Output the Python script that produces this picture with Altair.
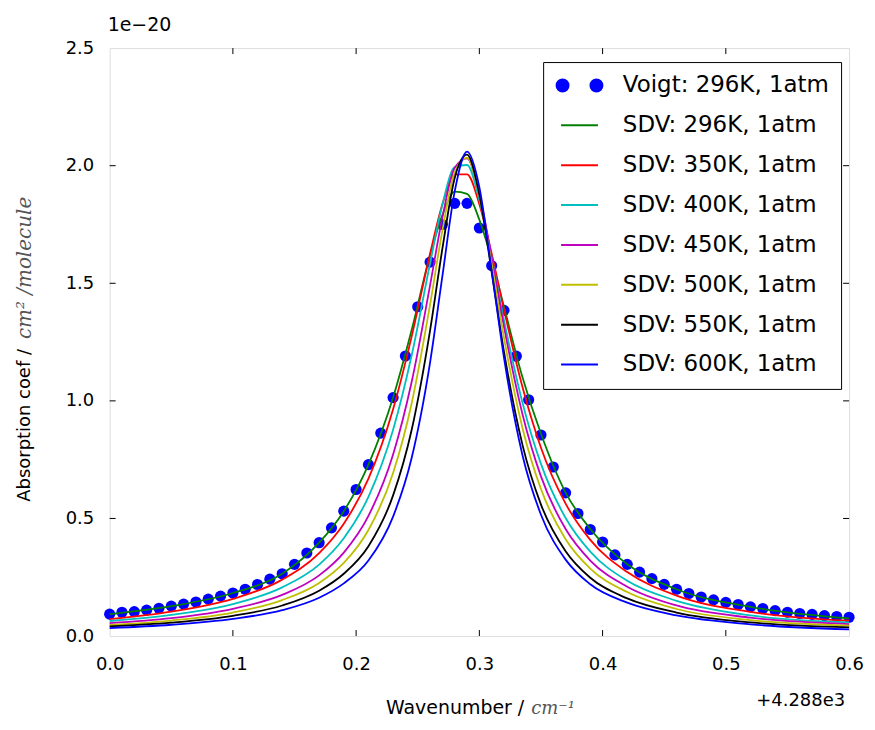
import altair as alt
import pandas as pd

SERIES = ["Voigt: 296K, 1atm", "SDV: 296K, 1atm", "SDV: 350K, 1atm", "SDV: 400K, 1atm",
          "SDV: 450K, 1atm", "SDV: 500K, 1atm", "SDV: 550K, 1atm", "SDV: 600K, 1atm"]
COLORS = ["#0000ff", "#008000", "#ff0000", "#00bfbf", "#bf00bf", "#bfbf00", "#000000", "#0000ff"]

VOIGT_X = [0.00, 0.01, 0.02, 0.03, 0.04, 0.05, 0.06, 0.07, 0.08, 0.09,
           0.10, 0.11, 0.12, 0.13, 0.14, 0.15, 0.16, 0.17, 0.18, 0.19,
           0.20, 0.21, 0.22, 0.23, 0.24, 0.25, 0.26, 0.27, 0.28, 0.29,
           0.30, 0.31, 0.32, 0.33, 0.34, 0.35, 0.36, 0.37, 0.38, 0.39,
           0.40, 0.41, 0.42, 0.43, 0.44, 0.45, 0.46, 0.47, 0.48, 0.49,
           0.50, 0.51, 0.52, 0.53, 0.54, 0.55, 0.56, 0.57, 0.58, 0.59, 0.60]
VOIGT_Y = [0.093, 0.101, 0.104, 0.110, 0.118, 0.127, 0.136, 0.145, 0.157, 0.170,
           0.183, 0.199, 0.219, 0.242, 0.265, 0.305, 0.353, 0.397, 0.460, 0.531,
           0.623, 0.729, 0.863, 1.014, 1.191, 1.400, 1.590, 1.750, 1.840, 1.840,
           1.735, 1.575, 1.385, 1.190, 1.005, 0.855, 0.719, 0.609, 0.521, 0.453,
           0.400, 0.345, 0.305, 0.272, 0.244, 0.220, 0.199, 0.181, 0.166, 0.154,
           0.143, 0.134, 0.124, 0.117, 0.108, 0.101, 0.096, 0.092, 0.087, 0.083, 0.080]

LINE_X = [0.00, 0.05, 0.10, 0.14, 0.17, 0.19, 0.21, 0.23, 0.245, 0.26, 0.27, 0.28,
          0.29, 0.30, 0.31, 0.32, 0.335, 0.35, 0.37, 0.39, 0.42, 0.46, 0.52, 0.60]
SDV_296 = [0.093, 0.127, 0.183, 0.265, 0.397, 0.531, 0.729, 1.014, 1.300, 1.620, 1.790, 1.890,
           1.880, 1.770, 1.600, 1.400, 1.100, 0.860, 0.610, 0.455, 0.305, 0.199, 0.124, 0.075]
SDV_350 = [0.072, 0.104, 0.158, 0.240, 0.353, 0.478, 0.669, 0.964, 1.272, 1.626, 1.836, 1.963,
           1.963, 1.836, 1.626, 1.388, 1.059, 0.801, 0.563, 0.409, 0.272, 0.172, 0.103, 0.065]
SDV_400 = [0.064, 0.090, 0.136, 0.207, 0.304, 0.416, 0.592, 0.877, 1.192, 1.584, 1.834, 1.994,
           2.003, 1.855, 1.611, 1.343, 0.992, 0.732, 0.502, 0.359, 0.235, 0.150, 0.088, 0.058]
SDV_450 = [0.055, 0.076, 0.116, 0.175, 0.258, 0.355, 0.511, 0.772, 1.079, 1.491, 1.780, 1.991,
           2.031, 1.880, 1.610, 1.316, 0.943, 0.679, 0.455, 0.321, 0.210, 0.130, 0.078, 0.051]
SDV_500 = [0.047, 0.066, 0.100, 0.153, 0.226, 0.311, 0.451, 0.693, 0.988, 1.409, 1.725, 1.972,
           2.034, 1.874, 1.581, 1.268, 0.885, 0.625, 0.412, 0.287, 0.187, 0.115, 0.068, 0.044]
SDV_550 = [0.041, 0.057, 0.086, 0.130, 0.193, 0.265, 0.382, 0.598, 0.875, 1.299, 1.647, 1.948,
           2.047, 1.877, 1.548, 1.208, 0.813, 0.559, 0.361, 0.248, 0.160, 0.100, 0.058, 0.037]
SDV_600 = [0.034, 0.048, 0.073, 0.110, 0.163, 0.224, 0.321, 0.508, 0.756, 1.163, 1.530, 1.891,
           2.060, 1.909, 1.553, 1.183, 0.769, 0.516, 0.325, 0.220, 0.142, 0.088, 0.050, 0.028]

X_TICKS = [0.0, 0.1, 0.2, 0.3, 0.4, 0.5, 0.6]
Y_TICKS = [0.0, 0.5, 1.0, 1.5, 2.0, 2.5]
X_INNER = [0.1, 0.2, 0.3, 0.4, 0.5]
Y_INNER = [0.5, 1.0, 1.5, 2.0]

# legend symbol paths (two dots for the Voigt entry, a short line for SDV entries)
DOTS = ("M -2.3 0 A 0.6 0.6 0 1 0 -1.1 0 A 0.6 0.6 0 1 0 -2.3 0 Z "
        "M 1.1 0 A 0.6 0.6 0 1 0 2.3 0 A 0.6 0.6 0 1 0 1.1 0 Z")
DASH = "M -1.85 0 L 1.85 0"

W, H = 742, 590
FONT = "DejaVu Sans"

voigt_df = pd.DataFrame({"x": VOIGT_X, "y": VOIGT_Y, "series": SERIES[0]})
sdv_values = [SDV_296, SDV_350, SDV_400, SDV_450, SDV_500, SDV_550, SDV_600]
rows = []
for name, vals in zip(SERIES[1:], sdv_values):
    for xv, yv in zip(LINE_X, vals):
        rows.append({"x": xv, "y": yv, "series": name})
lines_df = pd.DataFrame(rows)

x_axis = alt.Axis(values=X_TICKS, format=".1f", title=None, ticks=False, domain=False, grid=False,
                  labelFontSize=18, labelFont=FONT, labelColor="black", labelPadding=20,
                  labelFlush=False, labelOverlap=False)
y_axis = alt.Axis(values=Y_TICKS, format=".1f", title=None, ticks=False, domain=False, grid=False,
                  labelFontSize=18, labelFont=FONT, labelColor="black", labelPadding=16,
                  labelFlush=False, labelOverlap=False)
x_scale = alt.Scale(domain=[0, 0.6], nice=False, zero=False)
y_scale = alt.Scale(domain=[0, 2.5], nice=False, zero=False)

color_scale = alt.Scale(domain=SERIES, range=COLORS)
shape_scale = alt.Scale(domain=SERIES, range=[DOTS] + [DASH] * 7)
legend = alt.Legend(title=None, orient="none", legendX=435, legendY=14, padding=12,
                    strokeColor="black", fillColor="white", cornerRadius=0,
                    labelFontSize=23, labelFont=FONT, labelColor="black", labelLimit=400,
                    symbolSize=400, symbolStrokeWidth=2, symbolOffset=13, labelOffset=32,
                    rowPadding=16, symbolFillColor="black", symbolStrokeColor="black")


def X(field="x"):
    return alt.X(f"{field}:Q", scale=x_scale, axis=x_axis)


def Y(field="y"):
    return alt.Y(f"{field}:Q", scale=y_scale, axis=y_axis)


dots = alt.Chart(voigt_df).mark_circle(size=125, color="#0000ff", opacity=1).encode(x=X(), y=Y())

lines = alt.Chart(lines_df).mark_line(strokeWidth=1.8, interpolate="monotone").encode(
    x=X(), y=Y(),
    stroke=alt.Stroke("series:N", scale=color_scale, legend=legend),
)

legend_layer = alt.Chart(voigt_df).transform_filter("false").mark_point(
    filled=True, opacity=1, size=400
).encode(
    x=X(), y=Y(),
    fill=alt.Fill("series:N", scale=color_scale, legend=legend),
    stroke=alt.Stroke("series:N", scale=color_scale, legend=legend),
    shape=alt.Shape("series:N", scale=shape_scale, legend=legend),
)

xt = pd.DataFrame({"v": X_INNER})
yt = pd.DataFrame({"v": Y_INNER})
tick_bottom = alt.Chart(xt).mark_rule(color="black", strokeWidth=1).encode(
    x=X("v"), y=alt.value(H), y2=alt.value(H - 6))
tick_top = alt.Chart(xt).mark_rule(color="black", strokeWidth=1).encode(
    x=X("v"), y=alt.value(0), y2=alt.value(6))
tick_left = alt.Chart(yt).mark_rule(color="black", strokeWidth=1).encode(
    y=Y("v"), x=alt.value(0), x2=alt.value(6))
tick_right = alt.Chart(yt).mark_rule(color="black", strokeWidth=1).encode(
    y=Y("v"), x=alt.value(W), x2=alt.value(W - 6))


def label(text, x, y, **kw):
    return alt.Chart(pd.DataFrame({"t": [text]})).mark_text(**kw).encode(
        text="t:N", x=alt.value(x), y=alt.value(y))


exp_y = label("1e\u221220", -2, -17, align="left", baseline="alphabetic", fontSize=19, font=FONT, color="black")
exp_x = label("+4.288e3", W - 4, 660, align="right", baseline="alphabetic", fontSize=18, font=FONT, color="black")
ytitle_a = label("Absorption coef /", -85, 302, angle=270, align="right", baseline="middle",
                 fontSize=18, font=FONT, color="black")
ytitle_b = label("cm\u00b2 /molecule", -85, 292, angle=270, align="left", baseline="middle",
                 fontSize=20, font="DejaVu Serif", fontStyle="italic", color="#555555")
xtitle_a = label("Wavenumber /", 416, 668, align="right", baseline="alphabetic",
                 fontSize=19, font=FONT, color="black")
xtitle_b = label("cm\u207b\u00b9", 423, 668, align="left", baseline="alphabetic",
                 fontSize=18, font="DejaVu Serif", fontStyle="italic", color="#555555")

chart = alt.layer(
    dots, lines, legend_layer, tick_bottom, tick_top, tick_left, tick_right,
    exp_y, exp_x, ytitle_a, ytitle_b, xtitle_a, xtitle_b,
).properties(
    width=W, height=H,
    autosize=alt.AutoSizeParams(type="none"),
    padding={"left": 102, "top": 39, "right": 18, "bottom": 85},
).configure_view(
    stroke="black", strokeWidth=1.5
).configure(
    background="white"
)

chart.save("out.html", embed_options={"renderer": "svg", "actions": False})
